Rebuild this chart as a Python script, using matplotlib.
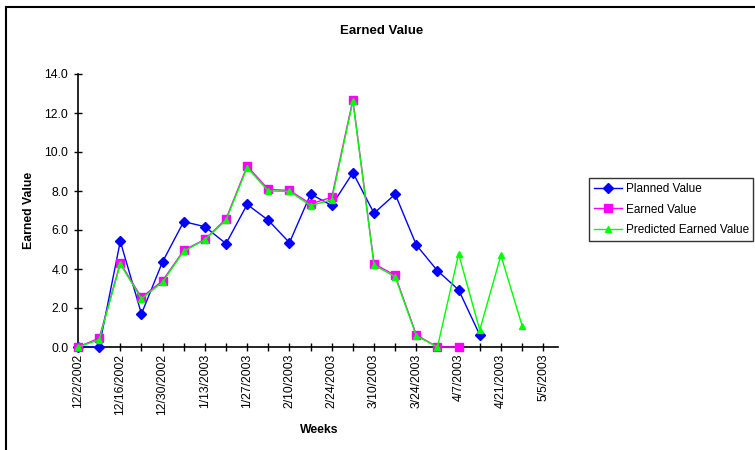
import matplotlib
matplotlib.use('Agg')
import matplotlib.pyplot as plt
from matplotlib.lines import Line2D

plt.rcParams['font.family'] = ['Liberation Sans', 'DejaVu Sans']

# weeks on the x axis (one point per week)
weeks = ['12/2/2002', '12/9/2002', '12/16/2002', '12/23/2002', '12/30/2002',
         '1/6/2003', '1/13/2003', '1/20/2003', '1/27/2003', '2/3/2003',
         '2/10/2003', '2/17/2003', '2/24/2003', '3/3/2003', '3/10/2003',
         '3/17/2003', '3/24/2003', '3/31/2003', '4/7/2003', '4/14/2003',
         '4/21/2003', '4/28/2003', '5/5/2003']

planned = [0.0, 0.0, 5.42, 1.70, 4.37, 6.43, 6.17, 5.30, 7.31, 6.50,
           5.35, 7.84, 7.26, 8.94, 6.86, 7.84, 5.23, 3.91, 2.93, 0.62]
earned = [0.0, 0.45, 4.31, 2.54, 3.40, 4.96, 5.52, 6.57, 9.28, 8.08,
          8.03, 7.34, 7.68, 12.68, 4.27, 3.67, 0.62, 0.0, 0.0]
predicted = [0.0, 0.37, 4.25, 2.47, 3.33, 4.91, 5.50, 6.50, 9.20, 8.00,
             7.98, 7.25, 7.55, 12.60, 4.20, 3.60, 0.57, 0.0, 4.77, 0.87,
             4.70, 1.10]

fig = plt.figure(figsize=(7.55, 4.5), dpi=100)
ax = fig.add_axes([78 / 755, 1 - 347 / 450, (558 - 78) / 755, (347 - 74) / 450])

ax.plot(range(len(planned)), planned, color='#0000FF', lw=1, marker='D',
        ms=5.5, label='Planned Value', clip_on=False, zorder=3)
ax.plot(range(len(earned)), earned, color='#FF00FF', lw=1, marker='s',
        ms=6, label='Earned Value', clip_on=False, zorder=4)
ax.plot(range(len(predicted)), predicted, color='#00FF00', lw=1, marker='^',
        ms=5, label='Predicted Earned Value', clip_on=False, zorder=5)

ax.set_xlim(0, 22.7)
ax.set_ylim(0, 14)
ax.set_yticks([i * 2 for i in range(8)])
ax.set_yticklabels(['%.1f' % (i * 2) for i in range(8)], fontsize=8.8)
ax.set_xticks(range(len(weeks)), minor=True)
ax.set_xticks(range(0, len(weeks), 2))
ax.set_xticklabels(weeks[::2], rotation=90, fontsize=8.8)
ax.tick_params(axis='both', which='both', direction='inout', length=6,
               width=1, color='black')
ax.tick_params(axis='x', which='both', pad=2)
ax.tick_params(axis='y', pad=4)

for s in ['top', 'right']:
    ax.spines[s].set_visible(False)
for s in ['left', 'bottom']:
    ax.spines[s].set_linewidth(1.2)

ax.set_ylabel('Earned Value', fontsize=8.8, fontweight='bold', labelpad=7)
fig.text(319 / 755, 1 - 430 / 450, 'Weeks', ha='center', va='center',
         fontsize=8.8, fontweight='bold')
fig.text(382 / 755, 1 - 31 / 450, 'Earned Value', ha='center', va='center',
         fontsize=9.5, fontweight='bold')

leg = fig.legend(loc='upper left', bbox_to_anchor=(589 / 755, 1 - 178 / 450),
                 fontsize=8.5, frameon=True, fancybox=False, handlelength=2.4,
                 handletextpad=0.3, borderpad=0.4, labelspacing=0.75,
                 borderaxespad=0)
leg.get_frame().set_edgecolor('black')
leg.get_frame().set_linewidth(1)

# outer chart border
fig.add_artist(Line2D([6 / 755, 1], [1 - 7 / 450, 1 - 7 / 450], color='black', lw=1.5))
fig.add_artist(Line2D([6 / 755, 6 / 755], [0, 1 - 7 / 450], color='black', lw=1.5))

fig.savefig('out.png', dpi=100)
